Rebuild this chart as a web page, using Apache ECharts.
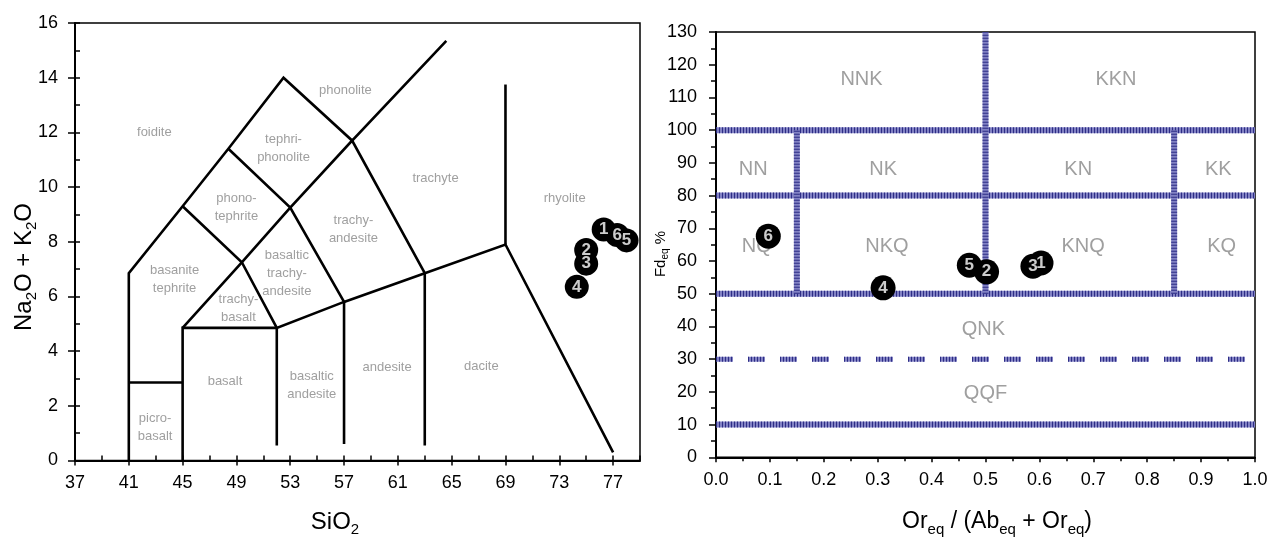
<!DOCTYPE html>
<html><head><meta charset="utf-8">
<script src="https://cdn.jsdelivr.net/npm/echarts@6/dist/echarts.min.js"></script>
<style>html,body{margin:0;padding:0;background:#fff}#c{width:1268px;height:538px}</style>
</head><body><div id="c"></div>
<script>
// ---------- Left: TAS diagram ----------
const tasXTicks = [37, 41, 45, 49, 53, 57, 61, 65, 69, 73, 77];
const tasXMax = 79;
const tasYTicks = [0, 2, 4, 6, 8, 10, 12, 14, 16];

// field boundaries [SiO2, Na2O+K2O]
const tasOuter   = [[41,0],[41,6.85],[45,9.3],[48.4,11.4],[52.5,14],[57.6,11.7],[64.6,15.35]];
const tasBase    = [[45,0],[45,4.85],[52,4.85],[57,5.8],[63,6.85],[69,7.9],[77,0.3]];
const tasPicro   = [[41,2.85],[45,2.85]];
const tasLineA   = [[45,4.85],[49.4,7.25],[53,9.25],[57.6,11.7],[63,6.85],[63,0.55]];
const tasLineB   = [[45,9.3],[49.4,7.25],[52,4.85],[52,0.55]];
const tasLineC   = [[48.4,11.4],[53,9.25],[57,5.8],[57,0.6]];
const tasLineD   = [[69,7.9],[69,13.75]];

const tasFieldNames = ['foidite','tephri-\nphonolite','phonolite','phono-\ntephrite','basanite\ntephrite',
  'basaltic\ntrachy-\nandesite','trachy-\nandesite','trachyte','trachy-\nbasalt','rhyolite',
  'picro-\nbasalt','basalt','basaltic\nandesite','andesite','dacite'];
const tasFieldX = [42.9, 52.5, 57.1, 49.0, 44.4, 52.75, 57.7, 63.8, 49.15, 73.4, 42.95, 48.15, 54.6, 60.2, 67.2];
const tasFieldY = [12.0, 11.4, 13.55, 9.27, 6.62, 6.84, 8.45, 10.3, 5.55, 9.6, 1.2, 2.9, 2.75, 3.4, 3.45];

const sampleIds = ['1','2','3','4','5','6'];
const tasSiO2 = [76.3, 75.0, 75.0, 74.3, 78.0, 77.3];
const tasAlk  = [8.45, 7.7, 7.2, 6.35, 8.05, 8.25];

// ---------- Right: Fd_eq vs Or_eq/(Ab_eq+Or_eq) ----------
const qapXTicks = [0, 0.1, 0.2, 0.3, 0.4, 0.5, 0.6, 0.7, 0.8, 0.9, 1.0];
const qapYTicks = [0, 10, 20, 30, 40, 50, 60, 70, 80, 90, 100, 110, 120, 130];
const qapHLevels = [100, 80, 50, 10];
const qapDashLevel = 30;
const qapDashEnd = 0.985;
const qapVx   = [0.5, 0.15, 0.85];
const qapVlo  = [50, 50, 50];
const qapVhi  = [130, 100, 100];
const qapFieldNames = ['NNK','KKN','NN','NK','KN','KK','NQ','NKQ','KNQ','KQ','QNK','QQF'];
const qapFieldX = [0.27, 0.742, 0.069, 0.31, 0.672, 0.932, 0.0755, 0.317, 0.681, 0.938, 0.496, 0.5];
const qapFieldY = [115.6, 115.6, 88, 88, 88, 88, 64.5, 64.5, 64.5, 64.5, 39, 19.6];
const qapRatio = [0.603, 0.502, 0.588, 0.31, 0.47, 0.097];
const qapFd    = [59.4, 56.7, 58.4, 51.8, 58.7, 67.6];

// ---------- build ----------
const FONT = "'Liberation Sans', Arial, sans-serif";
const series = [];
function addLine(pts, ax, style) {
  series.push({type:'line', xAxisIndex:ax, yAxisIndex:ax, data:pts, symbol:'none', silent:true,
    animation:false, clip:false, lineStyle:Object.assign({join:'miter', cap:'butt'}, style), z:3});
}
[tasOuter, tasBase, tasPicro, tasLineA, tasLineB, tasLineC, tasLineD].forEach(p =>
  addLine(p, 0, {color:'#000', width:2.6}));

const hatchBase = {color:'#8282c4', width:6, opacity:1};
const hatchTop = {color:'#1e1e7a', width:6, type:[1,2], opacity:0.85};
qapHLevels.forEach(v => {
  const pts = [[qapXTicks[0], v], [qapXTicks[qapXTicks.length-1], v]];
  addLine(pts, 2, hatchBase); addLine(pts, 2, hatchTop);
});
{
  const pts = [[qapXTicks[0], qapDashLevel], [qapDashEnd, qapDashLevel]];
  addLine(pts, 2, {color:'#8282c4', width:5, type:[17,15], opacity:1});
  addLine(pts, 2, {color:'#1e1e7a', width:5, type:[1,2,1,2,1,2,1,2,1,2,1,16], opacity:0.85});
}
qapVx.forEach((x, i) => {
  const pts = [[x, qapVlo[i]], [x, qapVhi[i]]];
  addLine(pts, 2, hatchBase); addLine(pts, 2, hatchTop);
});

function addNames(names, xs, ys, ax, lab) {
  series.push({type:'scatter', xAxisIndex:ax, yAxisIndex:ax, silent:true, animation:false,
    symbol:'circle', symbolSize:1, itemStyle:{color:'rgba(0,0,0,0)'}, z:4,
    data: names.map((n,i)=>({name:n, value:[xs[i], ys[i]]})),
    label: Object.assign({show:true, position:'inside', formatter:p=>p.name, fontFamily:FONT, color:'#878787'}, lab)});
}
addNames(tasFieldNames, tasFieldX, tasFieldY, 0, {fontSize:13, lineHeight:18});
addNames(qapFieldNames, qapFieldX, qapFieldY, 2, {fontSize:20});

function addSamples(xs, ys, ax, size, fs) {
  const order = sampleIds.map((_, i) => sampleIds.length - 1 - i);
  const pts = order.map(k => ({name:sampleIds[k], value:[xs[k], ys[k]]}));
  series.push({type:'scatter', xAxisIndex:ax, yAxisIndex:ax, animation:false, z:10, silent:true,
    symbol:'circle', symbolSize:size, itemStyle:{color:'#000', opacity:1}, data:pts});
  series.push({type:'scatter', xAxisIndex:ax, yAxisIndex:ax, animation:false, z:11, silent:true,
    symbol:'circle', symbolSize:1, itemStyle:{color:'rgba(0,0,0,0)'}, data:pts,
    label:{show:true, position:'inside', formatter:p=>p.name, color:'#fff', fontWeight:'bold', fontSize:fs, fontFamily:FONT}});
}
addSamples(tasSiO2, tasAlk, 0, 24, 17);
addSamples(qapRatio, qapFd, 2, 25, 17);

const tasXMinor = [];
for (let v = tasXTicks[0]; v <= tasXMax; v += (tasXTicks[1]-tasXTicks[0])/2) tasXMinor.push(v);
const tasYMinor = [];
for (let v = tasYTicks[0]; v <= tasYTicks[tasYTicks.length-1]; v += (tasYTicks[1]-tasYTicks[0])/2) tasYMinor.push(v);

const labelStyle = {color:'#000', fontSize:18, fontFamily:FONT};
const blackLine = {show:true, lineStyle:{color:'#000', width:2}};

const option = {
  backgroundColor:'#fff',
  animation:false,
  grid:[
    {left:75, top:23, width:565, height:437.5, show:true, borderColor:'#000', borderWidth:1.5, backgroundColor:'transparent', outerBoundsMode:'none', containLabel:false},
    {left:716, top:32, width:539, height:425.3, show:true, borderColor:'#000', borderWidth:1.5, backgroundColor:'transparent', outerBoundsMode:'none', containLabel:false}
  ],
  xAxis:[
    {type:'value', gridIndex:0, position:'bottom', min:tasXTicks[0], max:tasXMax, splitLine:{show:false},
      axisLine:blackLine, axisTick:{show:true, length:5, lineStyle:{color:'#000', width:1.5}, customValues:tasXTicks},
      axisLabel:Object.assign({margin:14, customValues:tasXTicks}, labelStyle)},
    {type:'value', gridIndex:0, position:'bottom', min:tasXTicks[0], max:tasXMax, splitLine:{show:false},
      axisLine:{show:false}, axisLabel:{show:false},
      axisTick:{show:true, inside:true, length:5, lineStyle:{color:'#000', width:1.5}, customValues:tasXMinor}},
    {type:'value', gridIndex:1, position:'bottom', min:qapXTicks[0], max:qapXTicks[qapXTicks.length-1],
      interval:qapXTicks[1]-qapXTicks[0], splitLine:{show:false}, axisLine:blackLine,
      axisTick:{show:true, length:5, lineStyle:{color:'#000', width:1.5}},
      minorTick:{show:true, splitNumber:2, length:4, lineStyle:{color:'#000', width:1.5}},
      axisLabel:Object.assign({margin:14, formatter:v=>v.toFixed(1)}, labelStyle)}
  ],
  yAxis:[
    {type:'value', gridIndex:0, position:'left', min:tasYTicks[0], max:tasYTicks[tasYTicks.length-1],
      interval:tasYTicks[1]-tasYTicks[0], splitLine:{show:false}, axisLine:blackLine,
      axisTick:{show:true, length:7, lineStyle:{color:'#000', width:1.5}},
      axisLabel:Object.assign({margin:17}, labelStyle)},
    {type:'value', gridIndex:0, position:'left', min:tasYTicks[0], max:tasYTicks[tasYTicks.length-1],
      splitLine:{show:false}, axisLine:{show:false}, axisLabel:{show:false},
      axisTick:{show:true, inside:true, length:5, lineStyle:{color:'#000', width:1.5}, customValues:tasYMinor}},
    {type:'value', gridIndex:1, position:'left', min:qapYTicks[0], max:qapYTicks[qapYTicks.length-1],
      interval:qapYTicks[1]-qapYTicks[0], splitLine:{show:false}, axisLine:blackLine,
      axisTick:{show:true, length:7, lineStyle:{color:'#000', width:1.5}},
      minorTick:{show:true, splitNumber:2, length:5, lineStyle:{color:'#000', width:1.5}},
      axisLabel:Object.assign({margin:19}, labelStyle)}
  ],
  graphic:[
    {type:'text', x:24, y:267, rotation:Math.PI/2, silent:true,
      style:{text:'{n|Na}{s|2}{n|O + K}{s|2}{n|O}', align:'center', verticalAlign:'middle', textAlign:'center', textVerticalAlign:'middle',
        rich:{n:{fontSize:24, fontFamily:FONT, lineHeight:30, fill:'#000'}, s:{fontSize:15, fontFamily:FONT, verticalAlign:'bottom', fill:'#000'}}}},
    {type:'text', x:335, y:522, silent:true,
      style:{text:'{n|SiO}{s|2}', align:'center', verticalAlign:'middle', textAlign:'center', textVerticalAlign:'middle',
        rich:{n:{fontSize:24, fontFamily:FONT, lineHeight:30, fill:'#000'}, s:{fontSize:15, fontFamily:FONT, verticalAlign:'bottom', fill:'#000'}}}},
    {type:'text', x:661, y:254, rotation:Math.PI/2, silent:true,
      style:{text:'{n|Fd}{s|eq}{n| %}', align:'center', verticalAlign:'middle', textAlign:'center', textVerticalAlign:'middle',
        rich:{n:{fontSize:15, fontFamily:FONT, lineHeight:19, fill:'#000'}, s:{fontSize:10, fontFamily:FONT, verticalAlign:'bottom', fill:'#000'}}}},
    {type:'text', x:997, y:522, silent:true,
      style:{text:'{n|Or}{s|eq}{n| / (Ab}{s|eq}{n| + Or}{s|eq}{n|)}', align:'center', verticalAlign:'middle', textAlign:'center', textVerticalAlign:'middle',
        rich:{n:{fontSize:23, fontFamily:FONT, lineHeight:30, fill:'#000'}, s:{fontSize:15, fontFamily:FONT, verticalAlign:'bottom', fill:'#000'}}}}
  ],
  series: series
};
const chart = echarts.init(document.getElementById('c'), null, {renderer:'canvas'});
chart.setOption(option);
</script>
</body></html>
